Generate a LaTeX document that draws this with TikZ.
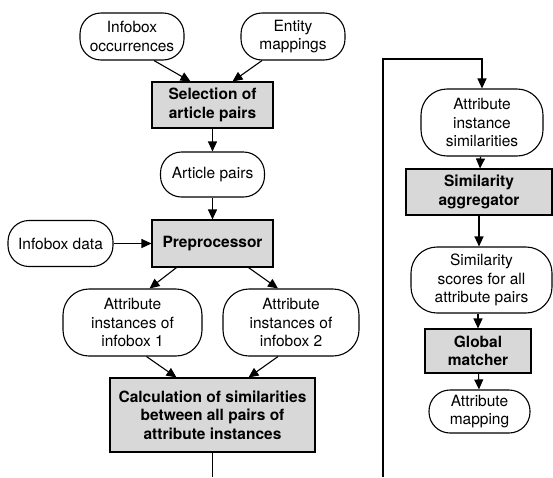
\documentclass[tikz,border=0pt]{standalone}
\usepackage{fontspec}
\setmainfont{TeX Gyre Heros}
\usetikzlibrary{arrows.meta}
\definecolor{boxgray}{RGB}{216,216,216}
\tikzset{
  data/.style={draw=black, line width=1.1pt, fill=white, rounded corners=21pt,
    align=center, inner sep=0pt, font=\fontsize{15.5}{18.5}\selectfont},
  tall/.style={rounded corners=26pt},
  proc/.style={draw=black, line width=1.1pt, fill=boxgray,
    align=center, inner sep=0pt, font=\fontsize{15.5}{18.5}\selectfont\bfseries},
  flow/.style={line width=1.1pt, -{Triangle[length=10pt,width=9pt]}},
  plain/.style={line width=1.1pt}
}
\begin{document}
\begin{tikzpicture}[x=1pt,y=-1pt]
\useasboundingbox (0,0) rectangle (553,477);
% left column
\node[data, minimum width=104pt, minimum height=47pt] (occ) at (132,36.5) {Infobox\\occurrences};
\node[data, minimum width=104pt, minimum height=47pt] (ent) at (293,36.5) {Entity\\mappings};
\node[proc, minimum width=121pt, minimum height=46pt] (sel) at (212.5,105) {Selection of\\article pairs};
\node[data, minimum width=104pt, minimum height=45pt] (art) at (212.5,174.5) {Article pairs};
\node[proc, minimum width=121pt, minimum height=47pt] (pre) at (212.5,243.5) {Preprocessor};
\node[data, minimum width=105pt, minimum height=46pt] (ibd) at (60.5,243.5) {Infobox data};
\node[data, tall, minimum width=139pt, minimum height=67pt] (ai1) at (132.5,322.5) {Attribute\\instances of\\infobox 1};
\node[data, tall, minimum width=136pt, minimum height=67pt] (ai2) at (291,322.5) {Attribute\\instances of\\infobox 2};
\node[proc, minimum width=205pt, minimum height=74pt] (calc) at (212.5,415) {Calculation of similarities\\between all pairs of\\attribute instances};
% right column
\node[data, tall, minimum width=122pt, minimum height=67pt] (ais) at (482,122.5) {Attribute\\instance\\similarities};
\node[proc, minimum width=146pt, minimum height=46pt] (agg) at (479,192) {Similarity\\aggregator};
\node[data, tall, minimum width=141pt, minimum height=66pt] (sco) at (481.5,280) {Similarity\\scores for all\\attribute pairs};
\node[proc, minimum width=106pt, minimum height=44pt] (glo) at (478,351) {Global\\matcher};
\node[data, minimum width=101pt, minimum height=43pt] (map) at (479.5,411.5) {Attribute\\mapping};
% connectors
\draw[flow] ([xshift=22pt]occ.south) -- ([xshift=-22pt]sel.north);
\draw[flow] ([xshift=-31pt]ent.south) -- ([xshift=20pt]sel.north);
\draw[flow] (sel) -- (art);
\draw[flow] (art) -- (pre);
\draw[flow] (ibd) -- (pre);
\draw[flow] ([xshift=-36pt]pre.south) -- ([xshift=17pt]ai1.north);
\draw[flow] ([xshift=36pt]pre.south) -- ([xshift=-13pt]ai2.north);
\draw[flow] ([xshift=14pt]ai1.south) -- ([xshift=-36pt]calc.north);
\draw[flow] ([xshift=-13pt]ai2.south) -- ([xshift=36pt]calc.north);
\coordinate (calcend) at (212.5,477);
\draw[plain] (calc.south) -- (calcend);
\coordinate (loopstart) at (383,477);
\coordinate (looptop) at (383,59);
\draw[flow] (loopstart) -- (looptop) -| (ais.north);
\draw[flow] (ais) -- (agg);
\draw[flow] (agg.south) -- (agg.south |- sco.north);
\draw[flow] (sco.south -| glo.north) -- (glo);
\draw[flow] (glo) -- (map);
\end{tikzpicture}
\end{document}
